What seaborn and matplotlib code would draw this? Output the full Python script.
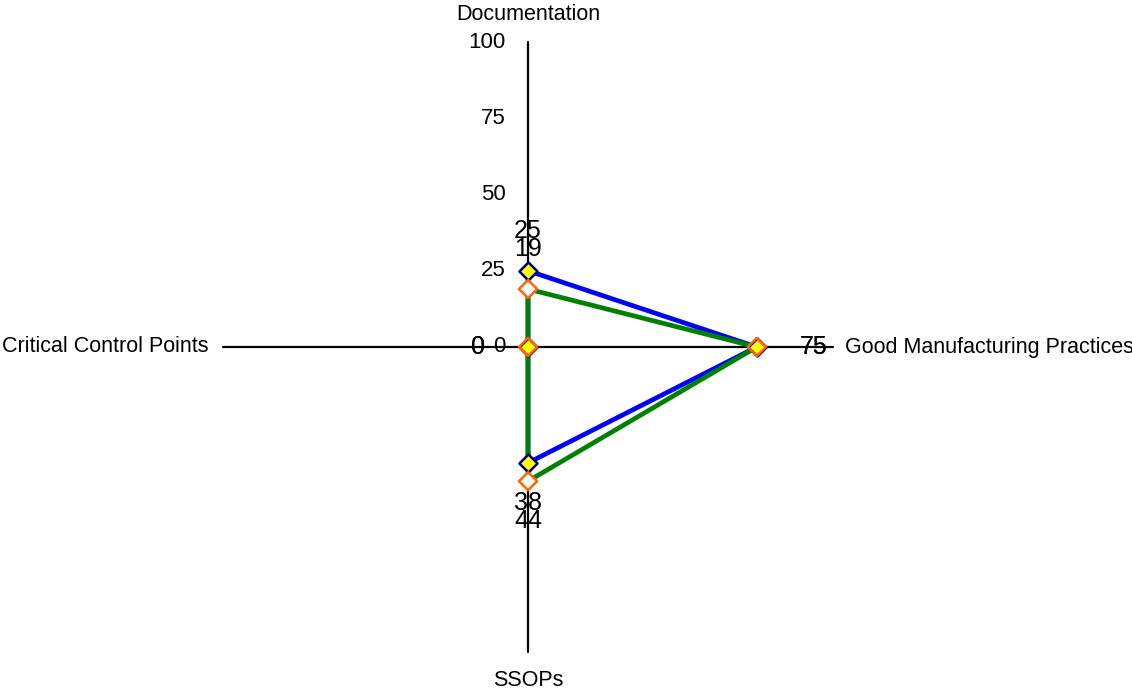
import numpy as np
import pandas as pd
import matplotlib
matplotlib.use('Agg')
import matplotlib.pyplot as plt
import seaborn as sns

# Dados do gráfico
categorias = ['Documentation', 'Good Manufacturing Practices', 'SSOPs', 'Critical Control Points']
angulos = [90, 0, 270, 180]
serie_a = [25, 75, 38, 0]
serie_b = [19, 75, 44, 0]
ticks = [0, 25, 50, 75, 100]

sns.set_style('white')
plt.rcParams['font.family'] = ['Liberation Sans', 'DejaVu Sans']
plt.rcParams['text.color'] = 'black'

W, H = 1132, 689
cx, cy = 528, 347
escala = 3.05  # pixels por unidade

fig = plt.figure(figsize=(W / 100, H / 100), dpi=100)
ax = fig.add_axes([0, 0, 1, 1])
ax.set_xlim(-cx / escala, (W - cx) / escala)
ax.set_ylim(-(H - cy) / escala, cy / escala)
ax.axis('off')


def para_xy(valores):
    rad = np.deg2rad(angulos)
    x = np.array(valores) * np.cos(rad)
    y = np.array(valores) * np.sin(rad)
    return x, y


# Eixos radiais
for ang in angulos:
    r = np.deg2rad(ang)
    ax.plot([0, 100 * np.cos(r)], [0, 100 * np.sin(r)], color='black', lw=1.6, zorder=1)

# Rótulos dos ticks no eixo vertical
for t in ticks:
    ax.text(-22 / escala, t, str(t), ha='right', va='center', fontsize=16, color='black')

# Rótulos das categorias
ax.text(0, (cy - 14) / escala, categorias[0], ha='center', va='center', fontsize=15.5, color='black')
ax.text((845 - cx) / escala, 0, categorias[1], ha='left', va='center', fontsize=15.5, color='black')
ax.text(0, -(680 - cy) / escala, categorias[2], ha='center', va='center', fontsize=15.5, color='black')
ax.text(-(cx - 209) / escala, 0, categorias[3], ha='right', va='center', fontsize=15.5, color='black')

# Polígonos
series = [(serie_a, 'blue'), (serie_b, 'green')]
for valores, cor in series:
    x, y = para_xy(valores)
    df = pd.DataFrame({'x': np.append(x, x[0]), 'y': np.append(y, y[0])})
    sns.lineplot(data=df, x='x', y='y', sort=False, estimator=None, color=cor,
                 linewidth=3.4, ax=ax, zorder=2)

# Marcadores
xa, ya = para_xy(serie_a)
xb, yb = para_xy(serie_b)
sns.scatterplot(x=xb, y=yb, marker='D', s=85, color='white', edgecolor='none', ax=ax, zorder=3)
sns.scatterplot(x=xa, y=ya, marker='D', s=85, color='yellow', edgecolor='#000080',
                linewidth=1.8, ax=ax, zorder=4)
sns.scatterplot(x=xb, y=yb, marker='D', s=85, facecolor='none', edgecolor='#FF6600',
                linewidth=1.8, ax=ax, zorder=5)

# Rótulos dos valores
deslocamentos = {90: ((0, 20), 'center', 'bottom'), 0: ((31, 0), 'left', 'center'),
                 270: ((0, -20), 'center', 'top'), 180: ((-31, 0), 'right', 'center')}
for valores in [serie_a, serie_b]:
    x, y = para_xy(valores)
    for xi, yi, v, ang in zip(x, y, valores, angulos):
        off, ha, va = deslocamentos[ang]
        ax.annotate(str(v), (xi, yi), xytext=off, textcoords='offset points',
                    ha=ha, va=va, fontsize=18, color='black', zorder=6)

plt.savefig('out.png', dpi=100)
plt.close()
